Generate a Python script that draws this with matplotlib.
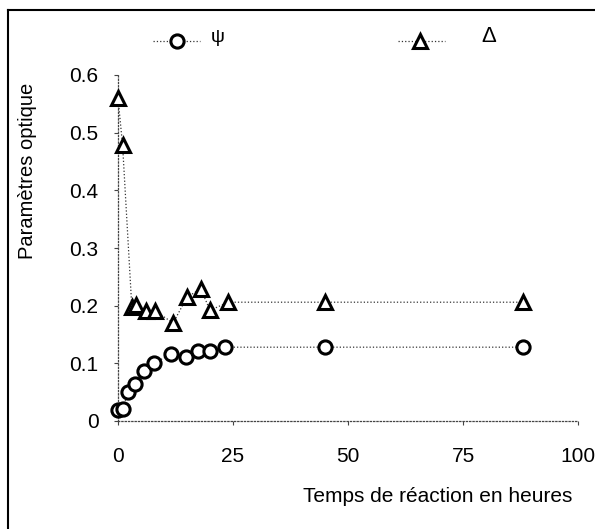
import matplotlib.pyplot as plt
from matplotlib.lines import Line2D

plt.rcParams['font.family'] = ['Liberation Sans', 'DejaVu Sans']

# --- données ---
temps_psi = [0, 1, 2.2, 3.7, 5.6, 7.8, 11.5, 14.8, 17.4, 20, 23.3, 45, 88]
psi = [0.019, 0.021, 0.05, 0.064, 0.087, 0.100, 0.116, 0.111, 0.121, 0.121, 0.128, 0.128, 0.128]

temps_delta = [0, 1, 3, 4, 6, 8, 12, 15, 18, 20, 24, 45, 88]
delta = [0.560, 0.478, 0.198, 0.201, 0.191, 0.191, 0.170, 0.215, 0.229, 0.192, 0.206, 0.206, 0.206]

x_ticks = [0, 25, 50, 75, 100]
y_ticks = [0, 0.1, 0.2, 0.3, 0.4, 0.5, 0.6]
y_tick_labels = ['0', '0.1', '0.2', '0.3', '0.4', '0.5', '0.6']

W, H = 595, 529
fig = plt.figure(figsize=(W / 100, H / 100), dpi=100)

# cadre (bord gauche et haut visibles)
fig.add_artist(Line2D([7.5 / W, 7.5 / W], [0, 1 - 10 / H], transform=fig.transFigure, color='black', lw=1.5))
fig.add_artist(Line2D([7.5 / W, 1], [1 - 10 / H, 1 - 10 / H], transform=fig.transFigure, color='black', lw=1.5))

ax = fig.add_axes([118 / W, (H - 421) / H, 460 / W, 346 / H])
ax.set_xlim(0, 100)
ax.set_ylim(0, 0.6)

ax.plot(temps_psi, psi, linestyle=':', color='#333333', lw=0.9,
        marker='o', ms=9.5, mfc='white', mec='black', mew=2.2, clip_on=False, zorder=3)
ax.plot(temps_delta, delta, linestyle=':', color='#333333', lw=0.9,
        marker='^', ms=10.5, mfc='white', mec='black', mew=2.2, clip_on=False, zorder=3)

for side in ['top', 'right']:
    ax.spines[side].set_visible(False)
for side in ['left', 'bottom']:
    ax.spines[side].set_linestyle(':')
    ax.spines[side].set_linewidth(0.9)
    ax.spines[side].set_color('#444444')

ax.set_xticks(x_ticks)
ax.set_yticks(y_ticks)
ax.set_yticklabels(y_tick_labels)
ax.tick_params(axis='both', direction='out', length=3, width=0.8, color='#444444', labelsize=15)
ax.tick_params(axis='x', pad=16)
ax.tick_params(axis='y', pad=11)

fig.text(28 / W, 1 - 171 / H, 'Paramètres optique', rotation=90, ha='center', va='center', fontsize=14.5)
fig.text(438 / W, 1 - 497 / H, 'Temps de réaction en heures', ha='center', va='center', fontsize=15)

# légende en haut
ly = 1 - 41 / H
fig.add_artist(Line2D([153 / W, 200 / W], [ly, ly], transform=fig.transFigure, linestyle=':', color='#333333', lw=0.9))
fig.add_artist(Line2D([177 / W], [ly], transform=fig.transFigure, marker='o', ms=9.5, mfc='white', mec='black', mew=2.2))
fig.text(218 / W, 1 - 38 / H, 'ψ', ha='center', va='center', fontsize=14)
fig.add_artist(Line2D([398 / W, 445 / W], [ly, ly], transform=fig.transFigure, linestyle=':', color='#333333', lw=0.9))
fig.add_artist(Line2D([420 / W], [ly], transform=fig.transFigure, marker='^', ms=10.5, mfc='white', mec='black', mew=2.2))
fig.text(489 / W, 1 - 37 / H, 'Δ', ha='center', va='center', fontsize=16)

fig.savefig('out.png', dpi=100)
